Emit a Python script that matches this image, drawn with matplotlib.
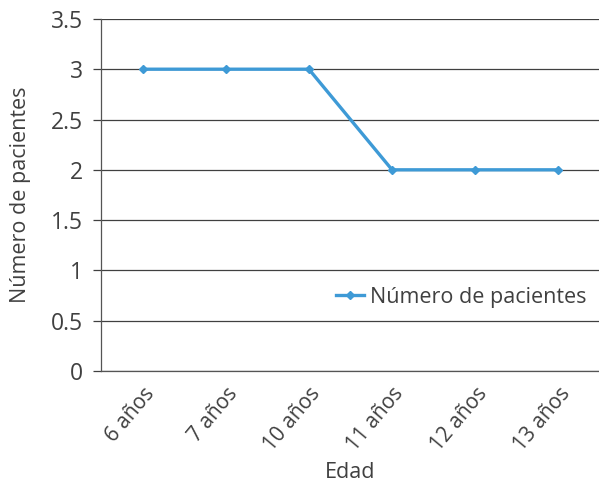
import matplotlib
matplotlib.use("Agg")
import matplotlib.pyplot as plt
from matplotlib.lines import Line2D

categories = ["6 años", "7 años", "10 años", "11 años", "12 años", "13 años"]
pacientes = [3, 3, 3, 2, 2, 2]
y_ticks = [0, 0.5, 1, 1.5, 2, 2.5, 3, 3.5]
y_tick_labels = ["0", "0.5", "1", "1.5", "2", "2.5", "3", "3.5"]
series_name = "Número de pacientes"

plt.rcParams["font.family"] = ["Open Sans", "DejaVu Sans"]
text_color = "#404040"
line_color = "#3E9AD6"

fig = plt.figure(figsize=(5.99, 4.86), dpi=100)
ax = fig.add_axes([0.1686, 0.2366, 0.833, 0.7245])

x = list(range(len(categories)))
ax.plot(x, pacientes, color=line_color, lw=2.4, marker="D", ms=4.5,
        solid_joinstyle="miter", zorder=3)

ax.set_xlim(-0.5, len(categories) - 0.5)
ax.set_ylim(0, 3.5)
ax.set_yticks(y_ticks)
ax.set_yticklabels(y_tick_labels)
ax.yaxis.grid(True, color="#404040", lw=0.9)
ax.set_axisbelow(True)

for s in ["top", "right"]:
    ax.spines[s].set_visible(False)
ax.spines["left"].set_color("#555555")
ax.spines["bottom"].set_color("#555555")
ax.spines["left"].set_linewidth(0.9)
ax.spines["bottom"].set_linewidth(0.9)

ax.set_xticks(x)
ax.set_xticklabels(categories, rotation=50, ha="right", rotation_mode="anchor")
ax.tick_params(axis="x", length=0, pad=9, labelsize=15, labelcolor=text_color)
ax.tick_params(axis="y", length=6, width=0.9, color="#404040", pad=7,
               labelsize=16.5, labelcolor=text_color)

ax.set_xlabel("Edad", fontsize=15.5, color=text_color, labelpad=5)
ax.set_ylabel(series_name, fontsize=15.5, color=text_color, labelpad=14)

handle = Line2D([], [], color=line_color, lw=2.4, marker="D", ms=4.5)
leg = ax.legend([handle], [series_name], loc="center right",
                bbox_to_anchor=(0.99, 0.21), frameon=False, fontsize=15.5,
                handlelength=1.3, handletextpad=0.25, labelcolor=text_color,
                borderaxespad=0)

fig.savefig("out.png", dpi=100)
